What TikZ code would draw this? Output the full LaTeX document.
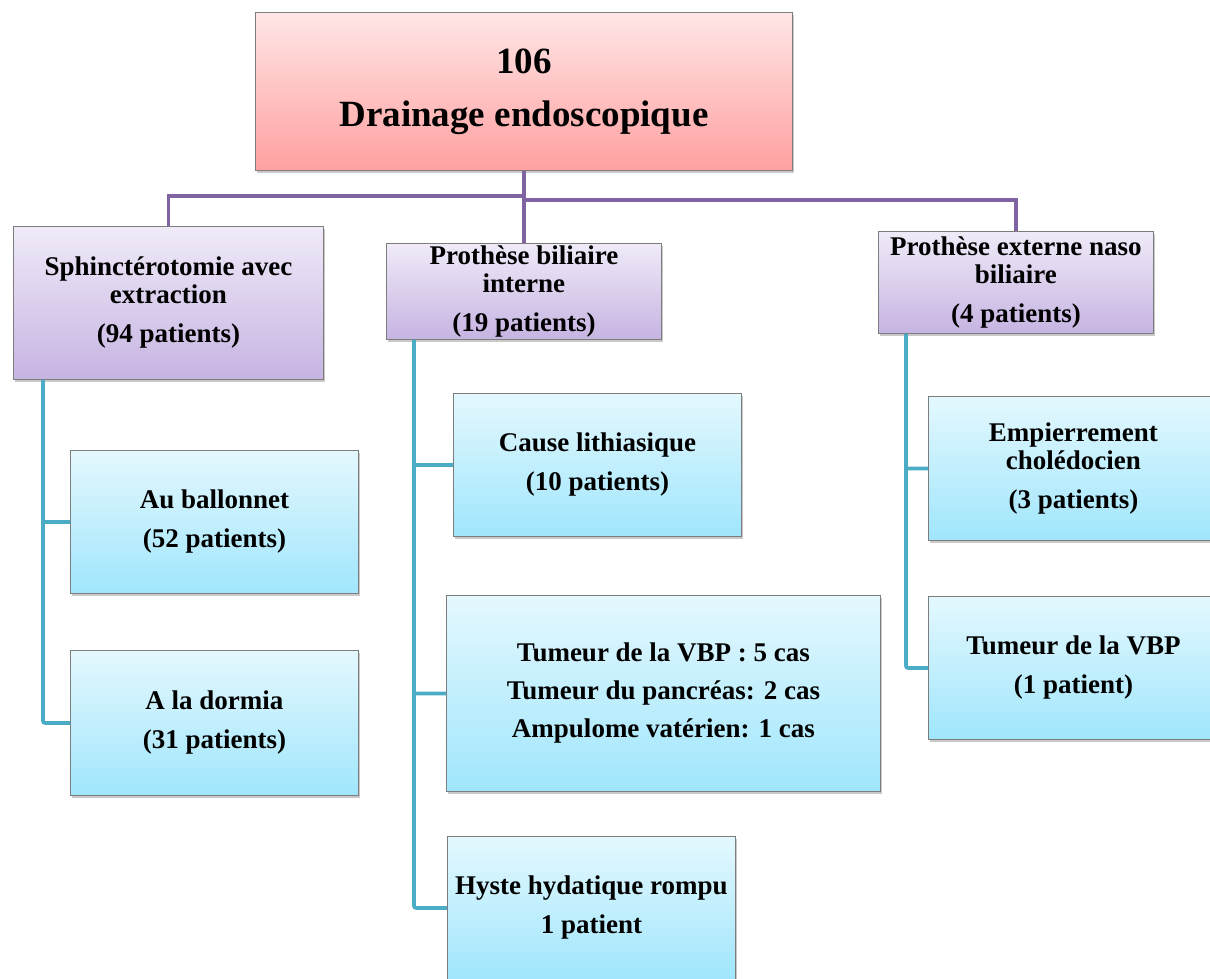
\documentclass[tikz,border=0pt]{standalone}
\usepackage{fontspec}
\setmainfont{Liberation Serif}
\usetikzlibrary{shadows}
\definecolor{pline}{RGB}{128,100,162}
\definecolor{tline}{RGB}{75,172,198}
\definecolor{pinkT}{RGB}{255,230,230}
\definecolor{pinkB}{RGB}{255,160,160}
\definecolor{purT}{RGB}{240,234,248}
\definecolor{purB}{RGB}{198,180,226}
\definecolor{cyaT}{RGB}{228,248,254}
\definecolor{cyaB}{RGB}{160,230,252}
\definecolor{bord}{RGB}{125,125,125}
\tikzset{
  boxbase/.style={draw=bord, line width=0.9pt, anchor=north west, inner sep=0pt,
    align=center, font=\bfseries\fontsize{27}{28}\selectfont,
    drop shadow={shadow xshift=2pt, shadow yshift=-3pt, opacity=0.35, fill=black!60}},
  titlebox/.style={boxbase, top color=pinkT, bottom color=pinkB, font=\bfseries\fontsize{37}{40}\selectfont},
  purbox/.style={boxbase, top color=purT, bottom color=purB},
  cyabox/.style={boxbase, top color=cyaT, bottom color=cyaB},
  plink/.style={draw=pline, line width=3.8pt},
  tlink/.style={draw=tline, line width=3.6pt, rounded corners=2pt},
}
\begin{document}
\begin{tikzpicture}[x=1pt, y=-1pt]
\clip (0,0) rectangle (1210,978);
\fill[white] (0,0) rectangle (1210,978);

\node[titlebox, minimum width=537pt, minimum height=158pt] (top) at (255,12) {106\\[13pt]Drainage endoscopique};
\node[purbox, minimum width=310pt, minimum height=153pt] (sph) at (13,226) {Sphinctérotomie avec\\extraction\\[11pt](94 patients)};
\node[purbox, minimum width=275pt, minimum height=96pt] (pbi) at (386,243) {Prothèse biliaire\\interne\\[11pt](19 patients)};
\node[purbox, minimum width=275pt, minimum height=102pt] (pen) at (878,231) {Prothèse externe naso\\biliaire\\[11pt](4 patients)};

\node[cyabox, minimum width=288pt, minimum height=143pt] (bal) at (70,450) {Au ballonnet\\[11pt](52 patients)};
\node[cyabox, minimum width=288pt, minimum height=145pt] (dor) at (70,650) {A la dormia\\[11pt](31 patients)};
\node[cyabox, minimum width=288pt, minimum height=143pt] (lit) at (453,393) {Cause lithiasique\\[11pt](10 patients)};
\node[cyabox, minimum width=434pt, minimum height=196pt] (tum) at (446,595) {Tumeur de la VBP : 5 cas\\[10pt]Tumeur du pancréas: 2 cas\\[10pt]Ampulome vatérien: 1 cas};
\node[cyabox, minimum width=288pt, minimum height=143pt] (hys) at (447,836) {Hyste hydatique rompu\\[11pt]1 patient};
\node[cyabox, minimum width=290pt, minimum height=144pt] (emp) at (928,396) {Empierrement\\cholédocien\\[11pt](3 patients)};
\node[cyabox, minimum width=290pt, minimum height=143pt] (vbp) at (928,596) {Tumeur de la VBP\\[11pt](1 patient)};

\coordinate (jl) at (523,196);
\coordinate (jr) at (523,200);
\coordinate (ts) at ([xshift=30pt]sph.south west);
\coordinate (tp) at ([xshift=28pt]pbi.south west);
\coordinate (te) at ([xshift=28pt]pen.south west);

\draw[plink] (top.south) -- (pbi.north);
\draw[plink] (sph.north) |- (jl);
\draw[plink] (pen.north) |- (jr);

\draw[tlink] (ts) |- (bal.west);
\draw[tlink] (ts) |- (dor.west);
\draw[tlink] (tp) |- (lit.west);
\draw[tlink] (tp) |- (tum.west);
\draw[tlink] (tp) |- (hys.west);
\draw[tlink] (te) |- (emp.west);
\draw[tlink] (te) |- (vbp.west);
\end{tikzpicture}
\end{document}
